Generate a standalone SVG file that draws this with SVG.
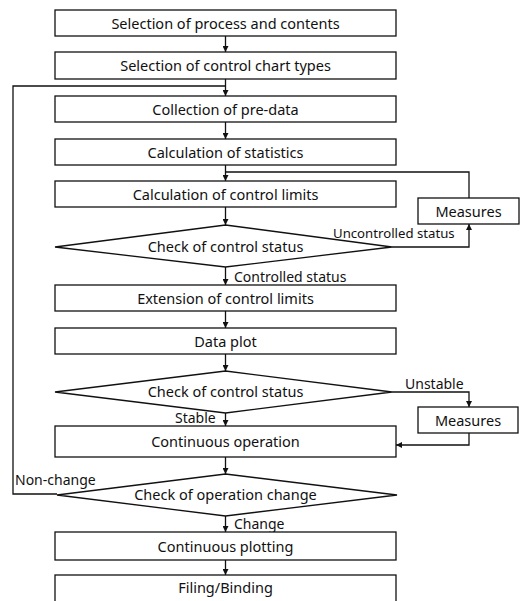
<svg xmlns="http://www.w3.org/2000/svg" width="522" height="601" viewBox="0 0 522 601">
<style>
.b{fill:#fff;stroke:#111;stroke-width:1.3}
.t{font-family:"Noto Sans","Liberation Sans",sans-serif;font-size:14.5px;fill:#111;text-anchor:middle}
.l{font-family:"Noto Sans","Liberation Sans",sans-serif;font-size:14px;fill:#111}
.c{fill:none;stroke:#111;stroke-width:1.3}
</style>
<defs>
<marker id="a" viewBox="0 0 10 10" refX="10" refY="5" markerWidth="6" markerHeight="6" markerUnits="userSpaceOnUse" orient="auto"><path d="M0,0L10,5L0,10z" fill="#111"/></marker>
</defs>
<rect width="522" height="601" fill="#fff"/>
<g id="connectors">
<path class="c" d="M225.5,36V52" marker-end="url(#a)"/>
<path class="c" d="M225.5,79V96" marker-end="url(#a)"/>
<path class="c" d="M57,494H13V86H225.5"/>
<path class="c" d="M225.5,122V139" marker-end="url(#a)"/>
<path class="c" d="M225.5,165V181" marker-end="url(#a)"/>
<path class="c" d="M469,198V172H225.5"/>
<path class="c" d="M225.5,207V225" marker-end="url(#a)"/>
<path class="c" d="M392,247H469V224" marker-end="url(#a)"/>
<path class="c" d="M225.5,267V285" marker-end="url(#a)"/>
<path class="c" d="M225.5,311V328" marker-end="url(#a)"/>
<path class="c" d="M225.5,354V371" marker-end="url(#a)"/>
<path class="c" d="M392,392H469V407" marker-end="url(#a)"/>
<path class="c" d="M469,433V445H396" marker-end="url(#a)"/>
<path class="c" d="M225.5,413V426" marker-end="url(#a)"/>
<path class="c" d="M225.5,457V474" marker-end="url(#a)"/>
<path class="c" d="M225.5,516V532" marker-end="url(#a)"/>
<path class="c" d="M225.5,560V575" marker-end="url(#a)"/>
<text class="l" x="333" y="238" style="font-size:13.2px">Uncontrolled status</text>
<text class="l" x="234" y="282">Controlled status</text>
<text class="l" x="405" y="389">Unstable</text>
<text class="l" x="175" y="423">Stable</text>
<text class="l" x="15" y="485">Non-change</text>
<text class="l" x="234" y="529">Change</text>
</g>
<g id="n1"><rect class="b" x="55" y="10" width="341" height="26"/><text class="t" x="225.5" y="28.5">Selection of process and contents</text></g>
<g id="n2"><rect class="b" x="55" y="52" width="341" height="27"/><text class="t" x="225.5" y="70.5">Selection of control chart types</text></g>
<g id="n3"><rect class="b" x="55" y="96" width="341" height="26"/><text class="t" x="225.5" y="114.5">Collection of pre-data</text></g>
<g id="n4"><rect class="b" x="55" y="139" width="341" height="26"/><text class="t" x="225.5" y="157.5">Calculation of statistics</text></g>
<g id="n5"><rect class="b" x="55" y="181" width="341" height="26"/><text class="t" x="225.5" y="199.5">Calculation of control limits</text></g>
<g id="m1"><rect class="b" x="418" y="198" width="101" height="26"/><text class="t" x="468.5" y="216.5">Measures</text></g>
<g id="d1"><polygon class="b" points="225.5,225 392,247 225.5,267 55,247"/><text class="t" x="225.5" y="252">Check of control status</text></g>
<g id="n6"><rect class="b" x="55" y="285" width="341" height="26"/><text class="t" x="225.5" y="303.5">Extension of control limits</text></g>
<g id="n7"><rect class="b" x="55" y="328" width="341" height="26"/><text class="t" x="225.5" y="346.5">Data plot</text></g>
<g id="d2"><polygon class="b" points="225.5,371 392,392 225.5,413 55,392"/><text class="t" x="225.5" y="397">Check of control status</text></g>
<g id="m2"><rect class="b" x="418" y="407" width="100" height="26"/><text class="t" x="468" y="425.5">Measures</text></g>
<g id="n8"><rect class="b" x="55" y="426" width="341" height="31"/><text class="t" x="225.5" y="446.5">Continuous operation</text></g>
<g id="d3"><polygon class="b" points="225.5,474 397,495 225.5,516 57,495"/><text class="t" x="225.5" y="500">Check of operation change</text></g>
<g id="n9"><rect class="b" x="55" y="532" width="341" height="28"/><text class="t" x="225.5" y="551.5">Continuous plotting</text></g>
<g id="n10"><rect class="b" x="55" y="575" width="341" height="30"/><text class="t" x="225.5" y="593">Filing/Binding</text></g>
</svg>
